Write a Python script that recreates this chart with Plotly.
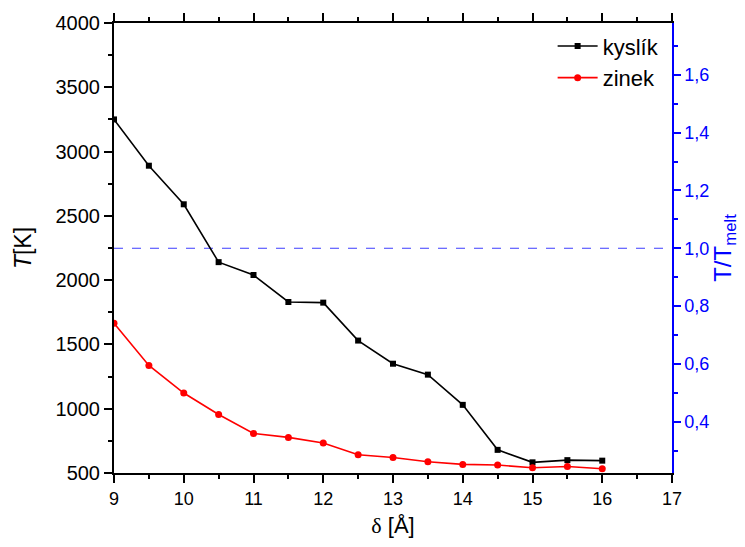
import plotly.graph_objects as go

# Distance delta [Å] and simulated temperatures [K]
delta = [9, 9.5, 10, 10.5, 11, 11.5, 12, 12.5, 13, 13.5, 14, 14.5, 15, 15.5, 16]
t_kyslik = [3250, 2890, 2590, 2140, 2040, 1830, 1825, 1530, 1350, 1265, 1030, 680, 583, 600, 596]
t_zinek = [1665, 1337, 1122, 955, 808, 777, 733, 642, 621, 588, 567, 562, 541, 551, 533]
series_names = ["kyslík", "zinek"]

T_MELT = 2248  # melting temperature used for the T/T_melt scale
T_RANGE = [500, 4000]

FONT = "Arial, Liberation Sans, sans-serif"

fig = go.Figure()
fig.add_trace(go.Scatter(
    x=delta, y=t_kyslik, name=series_names[0], mode="lines+markers",
    line=dict(color="black", width=1.6),
    marker=dict(symbol="square", size=6, color="black"),
))
fig.add_trace(go.Scatter(
    x=delta, y=t_zinek, name=series_names[1], mode="lines+markers",
    line=dict(color="#ff0000", width=1.6),
    marker=dict(symbol="circle", size=7, color="#ff0000"),
))
# invisible trace that activates the right-hand T/T_melt axis
fig.add_trace(go.Scatter(
    x=[delta[0]], y=[t_kyslik[0] / T_MELT], yaxis="y2",
    mode="markers", marker=dict(opacity=0), showlegend=False, hoverinfo="skip",
))

# melting point reference line
fig.add_shape(type="line", xref="paper", x0=0, x1=1, yref="y", y0=T_MELT, y1=T_MELT,
              line=dict(color="#3c3cff", width=1, dash="dash"), layer="below")

fig.update_layout(
    width=745, height=547,
    margin=dict(l=114, r=73, t=23, b=74),
    paper_bgcolor="white", plot_bgcolor="white",
    font=dict(family=FONT, size=18, color="black"),
    separators=", ",
    showlegend=True,
    legend=dict(x=0.985, xanchor="right", y=0.995, yanchor="top",
                bgcolor="rgba(0,0,0,0)", font=dict(size=22, family=FONT),
                tracegroupgap=0, itemwidth=40),
    xaxis=dict(
        range=[9, 17], tick0=9, dtick=1, showgrid=False, zeroline=False,
        showline=True, linecolor="black", linewidth=2, mirror="ticks",
        ticks="outside", ticklen=8, tickwidth=1.5, tickcolor="black",
        minor=dict(dtick=0.5, ticks="outside", ticklen=4, tickwidth=1.5, tickcolor="black"),
        tickfont=dict(size=18),
        title=dict(text="<span style='font-family:Liberation Serif, serif'>δ</span> [Å]",
                   font=dict(size=22), standoff=10),
    ),
    yaxis=dict(
        range=T_RANGE, tick0=500, dtick=500, showgrid=False, zeroline=False,
        showline=True, linecolor="black", linewidth=2,
        ticks="outside", ticklen=8, tickwidth=1.5, tickcolor="black",
        minor=dict(dtick=250, ticks="outside", ticklen=4, tickwidth=1.5, tickcolor="black"),
        tickfont=dict(size=20),
        title=dict(text="<i>T</i>[K]", font=dict(size=23), standoff=17),
    ),
    yaxis2=dict(
        overlaying="y", side="right",
        range=[T_RANGE[0] / T_MELT, T_RANGE[1] / T_MELT],
        tick0=0.4, dtick=0.2, tickformat=".1f", showgrid=False, zeroline=False,
        showline=True, linecolor="#0000ff", linewidth=1.5,
        ticks="outside", ticklen=7, tickwidth=1.5, tickcolor="#0000ff",
        minor=dict(dtick=0.1, ticks="outside", ticklen=4, tickwidth=1.5, tickcolor="#0000ff"),
        tickfont=dict(size=18, color="#0000ff"),
        title=dict(text="T/T<sub>melt</sub>", font=dict(size=24, color="#0000ff"), standoff=2),
    ),
)

fig.write_html("out.html")
